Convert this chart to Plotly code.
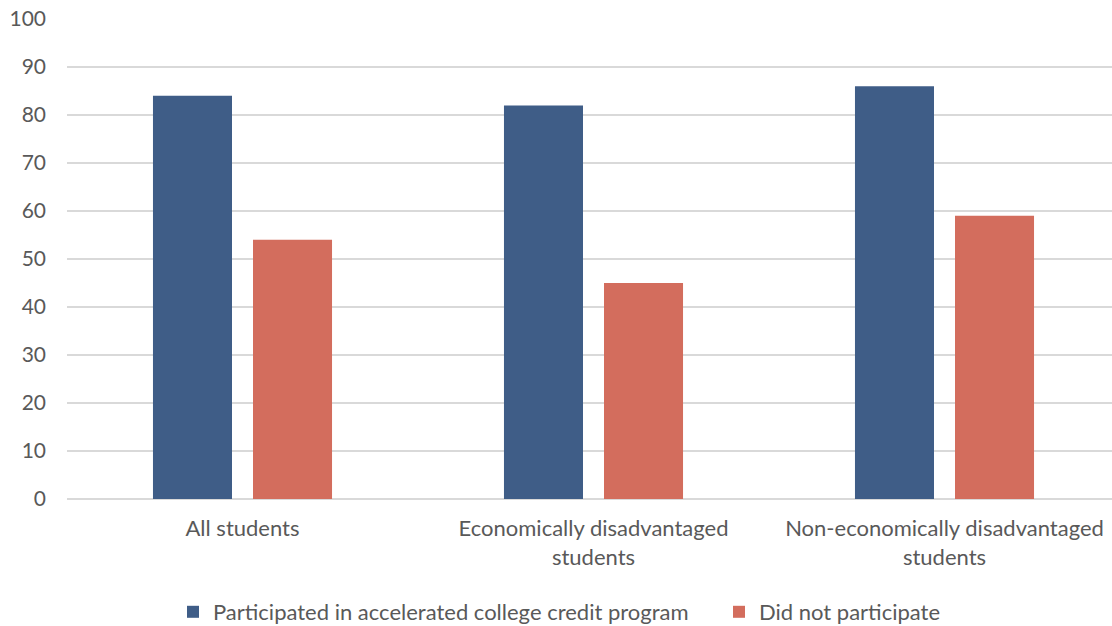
import plotly.graph_objects as go

categories = ["All students", "Economically disadvantaged<br>students", "Non-economically disadvantaged<br>students"]
participated = [84, 82, 86]
not_participated = [54, 45, 59]
series_names = ["Participated in accelerated college credit program", "Did not participate"]
y_ticks = [0, 10, 20, 30, 40, 50, 60, 70, 80, 90, 100]

FONT = "Lato"
TXT = "#595959"

fig = go.Figure()
fig.add_trace(go.Bar(x=categories, y=participated, name=series_names[0],
                     marker=dict(color="#3F5D87", line=dict(width=0)), legend="legend"))
fig.add_trace(go.Bar(x=categories, y=not_participated, name=series_names[1],
                     marker=dict(color="#D36D5D", line=dict(width=0)), legend="legend2"))

W, H = 1112, 626
L, R, T, B = 67, 0, 19, 127
pw = W - L - R
ph = H - T - B

fig.update_layout(
    width=W, height=H,
    margin=dict(l=L, r=R, t=T, b=B, autoexpand=False),
    paper_bgcolor="white", plot_bgcolor="white",
    font=dict(family=FONT, size=22, color=TXT),
    barmode="group", bargap=0.43, bargroupgap=0.21,
    showlegend=True,
    legend=dict(orientation="h", xref="container", yref="container", x=173 / W, xanchor="left",
                y=(H - 612) / H, yanchor="middle",
                font=dict(family=FONT, size=22, color=TXT), bgcolor="rgba(0,0,0,0)",
                borderwidth=0, itemclick=False),
    legend2=dict(orientation="h", xref="container", yref="container", x=719 / W, xanchor="left",
                 y=(H - 612) / H, yanchor="middle",
                 font=dict(family=FONT, size=22, color=TXT), bgcolor="rgba(0,0,0,0)",
                 borderwidth=0, itemclick=False),
)
fig.update_xaxes(type="category", range=[-0.5, -0.5 + pw / 351.0], showgrid=False, showline=False,
                 ticks="", tickfont=dict(family=FONT, size=22, color=TXT), ticklabelstandoff=14,
                 fixedrange=True)
fig.update_yaxes(range=[0, 100], tickvals=y_ticks, showgrid=True, gridcolor="#D9D9D9", gridwidth=1.5,
                 zeroline=True, zerolinecolor="#D9D9D9", zerolinewidth=1.5, showline=False, ticks="",
                 tickfont=dict(family=FONT, size=21, color=TXT), ticklabelstandoff=20, fixedrange=True)

fig.write_html("out.html", config={"displayModeBar": False})
